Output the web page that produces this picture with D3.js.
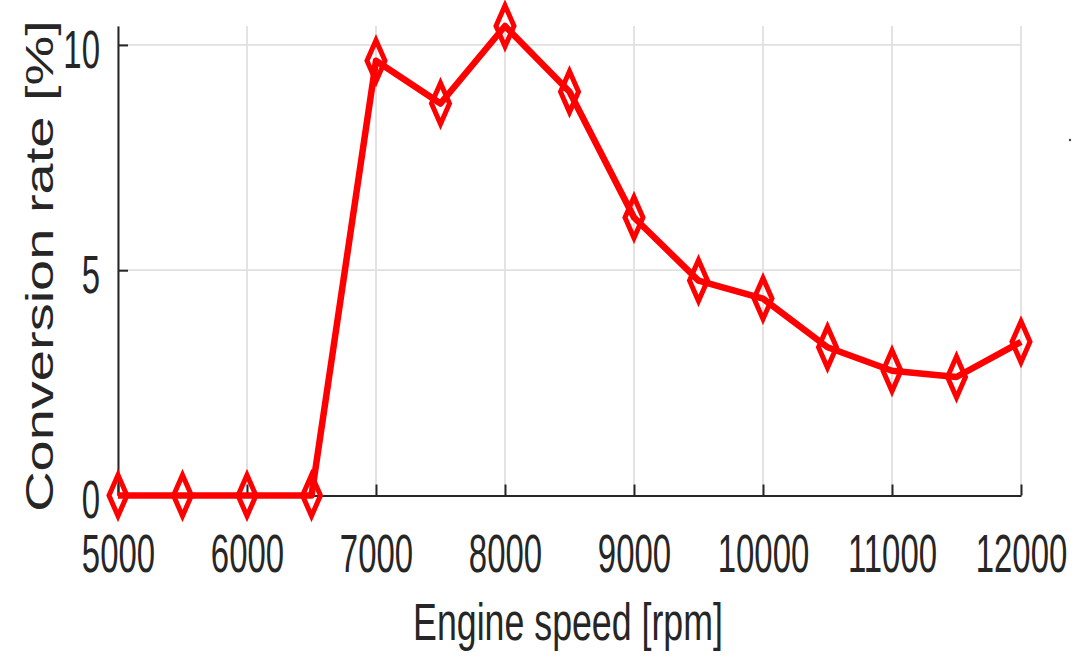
<!DOCTYPE html>
<html>
<head>
<meta charset="utf-8">
<script src="https://cdn.jsdelivr.net/npm/d3@7"></script>
<style>
  body { margin: 0; background: #fff; }
  svg { display: block; }
  text { font-family: "Liberation Sans", Arial, sans-serif; fill: #262626; }
</style>
</head>
<body>
<script>
var speeds = [5000, 5500, 6000, 6500, 7000, 7500, 8000, 8500, 9000, 9500, 10000, 10500, 11000, 11500, 12000];
var rates = [0, 0, 0, 0, 9.65, 8.7, 10.42, 8.96, 6.17, 4.77, 4.37, 3.29, 2.77, 2.63, 3.41];
var xTicks = [5000, 6000, 7000, 8000, 9000, 10000, 11000, 12000];
var yTicks = [0, 5, 10];

var width = 1079,
  height = 660,
  plotLeft = 118,
  plotRight = 1021,
  plotTop = 26,
  plotBottom = 495.5,
  axisColor = "#262626",
  gridColor = "#e0e0e0"

var svg = d3.select("body").append("svg")
  .attr("width", width)
  .attr("height", height)

var x = d3.scaleLinear().domain([5000, 12000]).range([plotLeft, plotRight]);
var y = d3.scaleLinear().domain([0, 10.42]).range([plotBottom, plotTop]);

// grid
svg.append("g").selectAll("line")
  .data(xTicks)
  .enter().append("line")
  .attr("x1", function (d) { return x(d); })
  .attr("x2", function (d) { return x(d); })
  .attr("y1", plotTop)
  .attr("y2", plotBottom)
  .attr("stroke", gridColor)
  .attr("stroke-width", 1.8);

svg.append("g").selectAll("line")
  .data(yTicks.filter(function (d) { return d > 0; }))
  .enter().append("line")
  .attr("x1", plotLeft)
  .attr("x2", plotRight)
  .attr("y1", function (d) { return y(d); })
  .attr("y2", function (d) { return y(d); })
  .attr("stroke", gridColor)
  .attr("stroke-width", 1.8);

// axes, ticks pointing inside
var xAxis = svg.append("g")
  .attr("transform", "translate(0," + plotBottom + ")")
  .call(d3.axisBottom(x).tickValues(xTicks).tickSizeInner(-11).tickSizeOuter(0).tickFormat(d3.format("d")));

var yAxis = svg.append("g")
  .attr("transform", "translate(" + plotLeft + ",0)")
  .call(d3.axisLeft(y).tickValues(yTicks).tickSizeInner(-10).tickSizeOuter(0).tickFormat(d3.format("d")));

[xAxis, yAxis].forEach(function (g) {
  g.select(".domain").attr("stroke", axisColor).attr("stroke-width", 2);
  g.selectAll(".tick line").attr("stroke", axisColor).attr("stroke-width", 2);
  g.selectAll(".tick text")
    .attr("fill", axisColor)
    .style("font-size", "54px")
    .attr("transform", "scale(0.61,1)");
});

xAxis.selectAll(".tick text")
  .attr("y", 76.5)
  .attr("dy", null)
  .attr("text-anchor", "middle");

yAxis.selectAll(".tick text")
  .attr("x", -18 / 0.61)
  .attr("dy", "0.41em")
  .attr("text-anchor", "end");

// axis titles
svg.append("text")
  .attr("transform", "translate(568,640) scale(0.687,1)")
  .attr("text-anchor", "middle")
  .style("font-size", "52px")
  .text("Engine speed [rpm]");

svg.append("text")
  .attr("transform", "translate(53,266) rotate(-90) scale(1,0.7)")
  .attr("text-anchor", "middle")
  .style("font-size", "56px")
  .text("Conversion rate [%]");

// series
var points = speeds.map(function (s, i) { return [s, rates[i]]; });

var line = d3.line()
  .x(function (d) { return x(d[0]); })
  .y(function (d) { return y(d[1]); });

svg.append("path")
  .datum(points)
  .attr("d", line)
  .attr("fill", "none")
  .attr("stroke", "#ff0000")
  .attr("stroke-width", 6.5)
  .attr("stroke-linejoin", "round");

svg.selectAll(".marker")
  .data(points)
  .enter().append("path")
  .attr("class", "marker")
  .attr("transform", function (d) { return "translate(" + x(d[0]) + "," + y(d[1]) + ")"; })
  .attr("d", "M0,-20.5L9,0L0,20.5L-9,0Z")
  .attr("fill", "none")
  .attr("stroke", "#ff0000")
  .attr("stroke-width", 5);

// small speck at right edge of the original figure
svg.append("circle")
  .attr("cx", 1070)
  .attr("cy", 140)
  .attr("r", 1.2)
  .attr("fill", "#444");
</script>
</body>
</html>
